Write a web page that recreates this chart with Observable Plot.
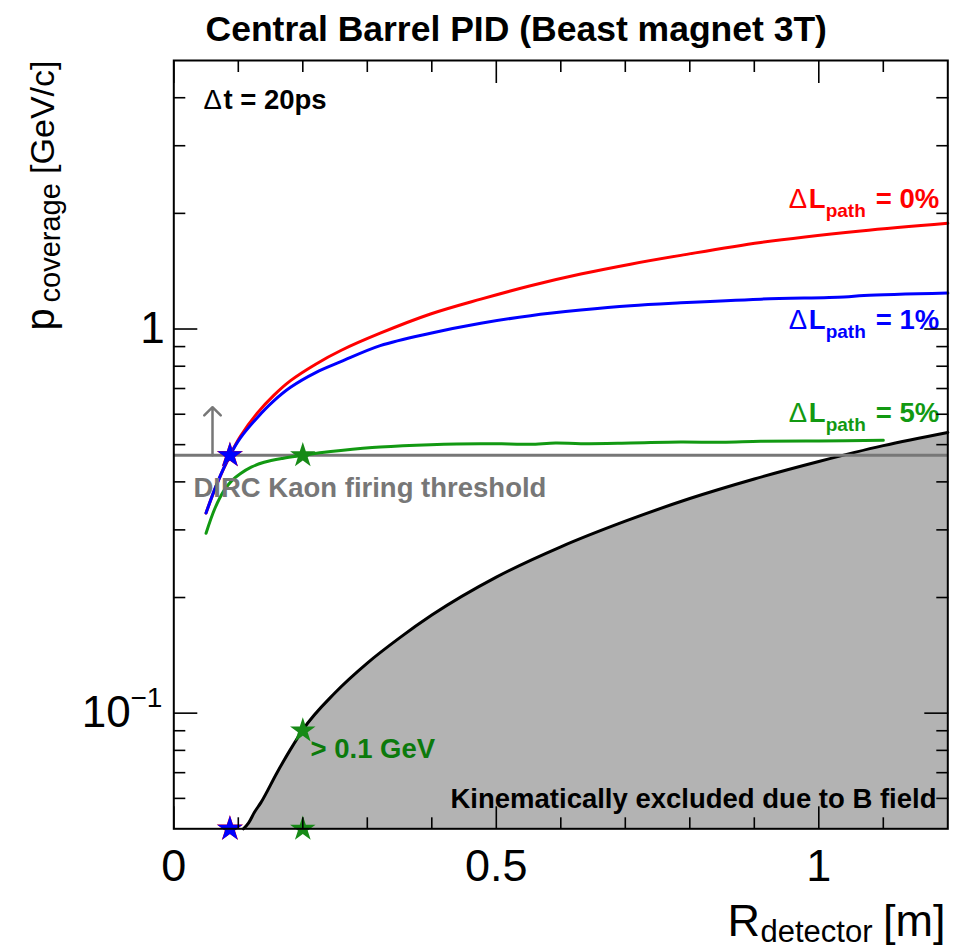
<!DOCTYPE html>
<html><head><meta charset="utf-8">
<script src="https://cdn.jsdelivr.net/npm/d3@7"></script>
<script src="https://cdn.jsdelivr.net/npm/@observablehq/plot@0.6"></script>
<style>html,body{margin:0;padding:0;background:#fff;}</style>
</head><body><div id="chart"></div>
<script>
// ---- data ----
const xRed = [0.05, 0.067, 0.088, 0.103, 0.129, 0.155, 0.181, 0.22, 0.259, 0.32, 0.398, 0.476, 0.553, 0.631, 0.708, 0.786, 0.91, 1.065, 1.2];
const yRed = [0.332, 0.396, 0.472, 0.525, 0.603, 0.672, 0.734, 0.81, 0.879, 0.975, 1.094, 1.196, 1.296, 1.39, 1.475, 1.555, 1.68, 1.80, 1.885];
const xBlue = [0.05, 0.067, 0.088, 0.103, 0.129, 0.155, 0.181, 0.22, 0.259, 0.32, 0.398, 0.476, 0.553, 0.631, 0.708, 0.786, 0.91, 1.039, 1.07, 1.2];
const yBlue = [0.332, 0.396, 0.472, 0.52, 0.587, 0.65, 0.705, 0.77, 0.822, 0.905, 0.975, 1.035, 1.083, 1.12, 1.15, 1.17, 1.196, 1.212, 1.222, 1.24];
const xGreen = [0.05, 0.064, 0.078, 0.09, 0.103, 0.12, 0.14, 0.17, 0.2, 0.23, 0.259, 0.32, 0.398, 0.476, 0.52, 0.553, 0.592, 0.631, 0.708, 0.786, 0.85, 0.91, 1.0, 1.1];
const yGreen = [0.294, 0.342, 0.38, 0.403, 0.42, 0.437, 0.45, 0.461, 0.469, 0.477, 0.483, 0.493, 0.50, 0.503, 0.502, 0.501, 0.505, 0.503, 0.505, 0.508, 0.507, 0.510, 0.511, 0.513];
const xKin = [0.108, 0.116, 0.125, 0.135, 0.16, 0.18, 0.2, 0.25, 0.3, 0.35, 0.4, 0.5, 0.6, 0.7, 0.8, 0.9, 1.0, 1.1, 1.2];
const yKin = [0.050, 0.0518, 0.0552, 0.0585, 0.070, 0.080, 0.0905, 0.113, 0.135, 0.157, 0.180, 0.226, 0.271, 0.316, 0.362, 0.407, 0.452, 0.497, 0.538];
const threshold = 0.469;
const arrowX = 0.06, arrowY = [0.469, 0.626];
const blueStarX = [0.087, 0.087], blueStarY = [0.469, 0.05];
const greenStarX = [0.2, 0.2, 0.2], greenStarY = [0.469, 0.09, 0.05];
const labelPct = ["= 0%", "= 1%", "= 5%"];
const labelY = [2.07, 1.0, 0.572];
const xMajor = [0, 0.5, 1];
const xMinor = [0.1, 0.2, 0.3, 0.4, 0.6, 0.7, 0.8, 0.9, 1.1];
const yMajor = [0.1, 1];
const yMinor = [0.06, 0.07, 0.08, 0.09, 0.2, 0.3, 0.4, 0.5, 0.6, 0.7, 0.8, 0.9, 2, 3, 4];
const yDomain = [0.05, 5];
const xDomain = [0, 1.2];

// ---- layout ----
const ML = 173.3, MT = 60, MR = 12.7, MB = 122.7;
const font = "'Liberation Sans', Arial, Helvetica, sans-serif";
const rows = (xs, ys) => xs.map((x, i) => ({x, y: ys[i]}));
const cRed = "#ff0000", cBlue = "#0000ff", cGreen = "#129912", cGray = "#777777";
const seriesColors = [cRed, cBlue, cGreen];

const labelMarks = [];
labelPct.forEach((t, i) => {
  const base = {y: labelY[i], fill: seriesColors[i], textAnchor: "start", lineAnchor: "bottom"};
  labelMarks.push(Plot.text([`Δ`], {...base, x: 0.9533, text: d => d, fontSize: 27.5, fontWeight: "normal"}));
  labelMarks.push(Plot.text([`L`], {...base, x: 0.9533, dx: 20, text: d => d, fontSize: 27.5, fontWeight: "bold"}));
  labelMarks.push(Plot.text([`path`], {...base, x: 1.0106, text: d => d, fontSize: 19, dy: 9, fontWeight: "bold"}));
  labelMarks.push(Plot.text([t], {...base, x: 1.0882, text: d => d, fontSize: 27.5, fontWeight: "bold"}));
});

const tickStyle = {tickFormat: () => "", label: null, strokeWidth: 1.6, stroke: "black"};

const plot = Plot.plot({
  width: 960, height: 951,
  marginLeft: ML, marginTop: MT, marginRight: MR, marginBottom: MB,
  style: {fontFamily: font, background: "white", color: "black", overflow: "visible"},
  x: {domain: xDomain},
  y: {type: "log", domain: yDomain},
  marks: [
    Plot.areaY(rows(xKin, yKin), {x: "x", y1: yDomain[0], y2: "y", fill: "#b3b3b3", curve: "monotone-x"}),
    Plot.line(rows(xKin, yKin), {x: "x", y: "y", stroke: "black", strokeWidth: 3, curve: "monotone-x"}),
    Plot.ruleY([threshold], {stroke: cGray, strokeWidth: 3}),
    Plot.line(rows(xRed, yRed), {x: "x", y: "y", stroke: cRed, strokeWidth: 3, curve: "catmull-rom"}),
    Plot.line(rows(xBlue, yBlue), {x: "x", y: "y", stroke: cBlue, strokeWidth: 3, curve: "catmull-rom"}),
    Plot.line(rows(xGreen, yGreen), {x: "x", y: "y", stroke: cGreen, strokeWidth: 3, curve: "catmull-rom"}),
    Plot.arrow([0], {x1: arrowX, x2: arrowX, y1: arrowY[0], y2: arrowY[1], stroke: cGray, strokeWidth: 2.5, headLength: 7, headAngle: 90}),
    Plot.dot(rows(blueStarX, blueStarY), {x: "x", y: "y", symbol: "star", r: 8.3, fill: cRed, stroke: "none"}),
    Plot.dot(rows(blueStarX, blueStarY), {x: "x", y: "y", symbol: "star", r: 8, fill: cBlue, stroke: "none"}),
    Plot.dot(rows(greenStarX, greenStarY), {x: "x", y: "y", symbol: "star", r: 8, fill: "#178a17", stroke: "none"}),
    // annotations
    Plot.text(["Δ"], {x: 0.046, y: 3.73, text: d => d, textAnchor: "start", lineAnchor: "bottom", fontSize: 27.5}),
    Plot.text(["t = 20ps"], {x: 0.046, dx: 20, y: 3.73, text: d => d, textAnchor: "start", lineAnchor: "bottom", fontSize: 27.5, fontWeight: "bold"}),
    Plot.text(["DIRC Kaon firing threshold"], {x: 0.0305, y: 0.365, text: d => d, textAnchor: "start", lineAnchor: "bottom", fontSize: 27.5, fontWeight: "bold", fill: cGray}),
    Plot.text(["> 0.1 GeV"], {x: 0.212, y: 0.0766, text: d => d, textAnchor: "start", lineAnchor: "bottom", fontSize: 27.5, fontWeight: "bold", fill: "#0c7a0c"}),
    Plot.text(["Kinematically excluded due to B field"], {x: 0.429, y: 0.0567, text: d => d, textAnchor: "start", lineAnchor: "bottom", fontSize: 27.5, fontWeight: "bold"}),
    ...labelMarks,
    // title
    Plot.text(["Central Barrel PID (Beast magnet 3T)"], {frameAnchor: "top-left", text: d => d, dx: 31.7, dy: -20, textAnchor: "start", lineAnchor: "bottom", fontSize: 35.5, fontWeight: "bold"}),
    // x axis title
    Plot.text(["R"], {frameAnchor: "bottom-left", text: d => d, dx: 553.7, dy: 106.7, textAnchor: "start", lineAnchor: "bottom", fontSize: 45}),
    Plot.text(["detector"], {frameAnchor: "bottom-left", text: d => d, dx: 586.7, dy: 113.5, textAnchor: "start", lineAnchor: "bottom", fontSize: 31}),
    Plot.text(["[m]"], {frameAnchor: "bottom-right", text: d => d, dx: -2.3, dy: 106.7, textAnchor: "end", lineAnchor: "bottom", fontSize: 45}),
    // y axis title (rotated)
    Plot.text(["[GeV/c]"], {frameAnchor: "top-left", text: d => d, dx: -120.3, dy: 0, rotate: -90, textAnchor: "end", lineAnchor: "bottom", fontSize: 34}),
    Plot.text(["coverage"], {frameAnchor: "top-left", text: d => d, dx: -114.3, dy: 242, rotate: -90, textAnchor: "start", lineAnchor: "bottom", fontSize: 29}),
    Plot.text(["p"], {frameAnchor: "top-left", text: d => d, dx: -120.3, dy: 270, rotate: -90, textAnchor: "start", lineAnchor: "bottom", fontSize: 40}),
    // tick labels
    Plot.axisX({ticks: xMajor, anchor: "bottom", tickSize: 0, tickPadding: 20, fontSize: 45, label: null, tickFormat: d => String(d)}),
    Plot.axisY({ticks: [1], anchor: "left", tickSize: 0, tickPadding: 9, fontSize: 44, label: null, tickFormat: () => "1"}),
    Plot.axisY({ticks: [0.1], anchor: "left", tickSize: 0, tickPadding: 43, fontSize: 44, label: null, tickFormat: () => "10"}),
    Plot.text([0.1], {y: d => d, frameAnchor: "left", text: () => "−1", dx: -43.3, dy: -6, textAnchor: "start", lineAnchor: "bottom", fontSize: 28}),
    // inward ticks on all four sides
    Plot.axisX({ticks: xMajor, anchor: "bottom", tickSize: -22, ...tickStyle}),
    Plot.axisX({ticks: xMinor, anchor: "bottom", tickSize: -11, ...tickStyle}),
    Plot.axisX({ticks: xMajor, anchor: "top", tickSize: -22, ...tickStyle}),
    Plot.axisX({ticks: xMinor, anchor: "top", tickSize: -11, ...tickStyle}),
    Plot.axisY({ticks: yMajor, anchor: "left", tickSize: -24, ...tickStyle}),
    Plot.axisY({ticks: yMinor, anchor: "left", tickSize: -12, ...tickStyle}),
    Plot.axisY({ticks: yMajor, anchor: "right", tickSize: -24, ...tickStyle}),
    Plot.axisY({ticks: yMinor, anchor: "right", tickSize: -12, ...tickStyle}),
    Plot.frame({stroke: "black", strokeWidth: 2})
  ]
});
document.getElementById("chart").appendChild(plot);
</script>
</body></html>
